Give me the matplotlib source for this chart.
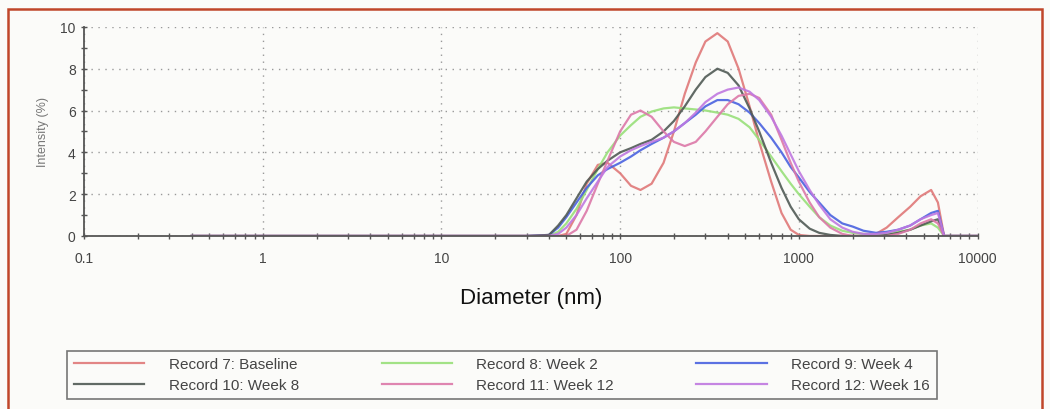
import matplotlib
matplotlib.use('Agg')
import matplotlib.pyplot as plt
from matplotlib.patches import Rectangle
from matplotlib.ticker import LogLocator, FixedLocator, MultipleLocator

plt.rcParams['font.family'] = ['Liberation Sans', 'DejaVu Sans']

# size classes (nm) shared by all records
diameter = [0.4, 1, 10, 30, 40, 45, 50, 57, 65, 75, 85, 100, 115, 130, 150, 175, 200,
            230, 265, 300, 350, 400, 460, 530, 600, 700, 800, 900, 1000, 1150, 1300,
            1500, 1750, 2000, 2300, 2700, 3100, 3600, 4200, 4800, 5500, 6000, 6500, 7000, 10000]

baseline = [0, 0, 0, 0, 0, 0, 0.1, 1.0, 2.5, 3.4, 3.5, 3.0, 2.4, 2.2, 2.5, 3.5, 5.0,
            6.8, 8.3, 9.3, 9.7, 9.3, 8.0, 6.2, 4.5, 2.6, 1.1, 0.3, 0.05, 0, 0,
            0, 0, 0, 0, 0.1, 0.4, 0.9, 1.4, 1.9, 2.2, 1.6, 0, 0, 0]
week2 = [0, 0, 0, 0, 0, 0.2, 0.6, 1.3, 2.2, 3.2, 4.0, 4.8, 5.3, 5.7, 5.95, 6.1, 6.15,
         6.1, 6.05, 6.0, 5.9, 5.8, 5.6, 5.2, 4.6, 3.8, 3.1, 2.5, 2.0, 1.4, 0.9,
         0.5, 0.25, 0.15, 0.1, 0.1, 0.1, 0.2, 0.3, 0.5, 0.6, 0.4, 0, 0, 0]
week4 = [0, 0, 0, 0, 0.05, 0.4, 0.9, 1.6, 2.3, 2.9, 3.2, 3.5, 3.8, 4.1, 4.4, 4.7, 5.0,
         5.4, 5.8, 6.2, 6.5, 6.5, 6.3, 5.9, 5.4, 4.7, 4.0, 3.3, 2.8, 2.1, 1.6,
         1.0, 0.6, 0.45, 0.25, 0.15, 0.2, 0.3, 0.5, 0.8, 1.1, 1.2, 0, 0, 0]
week8 = [0, 0, 0, 0, 0.05, 0.5, 1.0, 1.8, 2.6, 3.2, 3.6, 4.0, 4.2, 4.4, 4.6, 5.0, 5.5,
         6.2, 7.0, 7.6, 8.0, 7.8, 7.2, 6.1, 5.0, 3.5, 2.3, 1.4, 0.8, 0.35, 0.15,
         0.05, 0, 0, 0, 0, 0.05, 0.15, 0.3, 0.5, 0.7, 0.8, 0, 0, 0]
week12 = [0, 0, 0, 0, 0, 0, 0, 0.3, 1.2, 2.5, 3.6, 5.0, 5.8, 6.0, 5.7, 5.0, 4.5,
          4.3, 4.5, 5.0, 5.7, 6.3, 6.7, 6.8, 6.6, 5.8, 4.6, 3.5, 2.6, 1.6, 0.9,
          0.4, 0.1, 0, 0, 0, 0, 0.1, 0.3, 0.6, 0.8, 0.6, 0, 0, 0]
week16 = [0, 0, 0, 0, 0, 0.1, 0.4, 1.0, 1.8, 2.6, 3.3, 3.8, 4.1, 4.3, 4.5, 4.7, 5.0,
          5.4, 5.9, 6.4, 6.8, 7.0, 7.1, 6.9, 6.5, 5.7, 4.8, 3.9, 3.1, 2.2, 1.5,
          0.8, 0.4, 0.2, 0.1, 0.1, 0.15, 0.3, 0.5, 0.8, 1.0, 1.1, 0, 0, 0]

records = [
    ('Record 7: Baseline', baseline, '#e07878'),
    ('Record 10: Week 8', week8, '#505a55'),
    ('Record 8: Week 2', week2, '#98e07a'),
    ('Record 11: Week 12', week12, '#dc78a8'),
    ('Record 9: Week 4', week4, '#4a62e0'),
    ('Record 12: Week 16', week16, '#c078e0'),
]

fig = plt.figure(figsize=(10.5, 4.1), dpi=100, facecolor='#fbfbf9')
ax = fig.add_axes([0.08, 0.422, 0.851, 0.51])
ax.set_facecolor('#fbfbf9')

# draw order: later records on top
for name, vals, col in [records[0], records[2], records[4], records[1], records[3], records[5]]:
    ax.plot(diameter, vals, color=col, linewidth=1.6, alpha=0.9, label=name)

ax.set_xscale('log')
ax.set_xlim(0.1, 10000)
ax.set_ylim(0, 10)
ax.xaxis.set_major_locator(FixedLocator([0.1, 1, 10, 100, 1000, 10000]))
ax.set_xticklabels(['0.1', '1', '10', '100', '1000', '10000'])
ax.xaxis.set_minor_locator(LogLocator(base=10, subs=range(2, 10)))
ax.xaxis.set_minor_formatter(plt.NullFormatter())
ax.yaxis.set_major_locator(MultipleLocator(2))
ax.yaxis.set_minor_locator(MultipleLocator(1))

ax.tick_params(axis='both', which='both', direction='inout', colors='#555555',
               labelcolor='#444444', labelsize=10)
ax.tick_params(axis='both', which='major', length=5, width=1)
ax.tick_params(axis='both', which='minor', length=4, width=1)
ax.tick_params(axis='x', pad=8)
for s in ['top', 'right']:
    ax.spines[s].set_visible(False)
for s in ['left', 'bottom']:
    ax.spines[s].set_color('#555555')
    ax.spines[s].set_linewidth(1.3)
ax.grid(True, which='major', linestyle=(0, (1, 4)), color='#999999', linewidth=1)

ax.set_ylabel('Intensity (%)', fontsize=9, color='#777777', labelpad=8)
ax.set_xlabel('Diameter (nm)', fontsize=16, color='#111111', labelpad=16)

handles, labels = ax.get_legend_handles_labels()
order = [labels.index(r[0]) for r in records]
leg = fig.legend([handles[i] for i in order], [labels[i] for i in order],
                 loc='lower left', bbox_to_anchor=(0.064, 0.024), borderaxespad=0,
                 ncol=3, fontsize=11, handlelength=4.6, handletextpad=1.6,
                 columnspacing=5.4, frameon=True, fancybox=False, edgecolor='#555555',
                 borderpad=0.45, labelspacing=0.45, labelcolor='#444444')
leg.get_frame().set_linewidth(1.2)
leg.get_frame().set_facecolor('#fbfbf9')

fig.patches.append(Rectangle((0.008, -0.1), 0.984, 1.075, transform=fig.transFigure,
                             fill=False, edgecolor='#c0462a', linewidth=1.8))

fig.savefig('out.png', dpi=100, facecolor=fig.get_facecolor())
